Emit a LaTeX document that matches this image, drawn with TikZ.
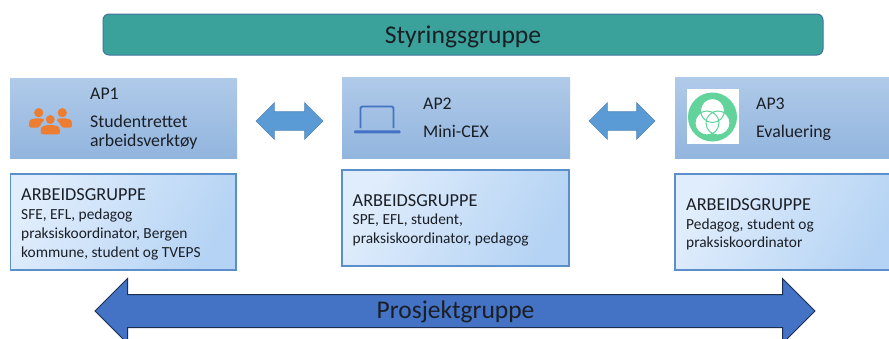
\documentclass[tikz,border=0pt]{standalone}
\usepackage{fontspec}
\setmainfont{Carlito}
\usetikzlibrary{shapes.arrows}
\definecolor{apTop}{HTML}{B0CAE9}
\definecolor{apBot}{HTML}{92B5DE}
\definecolor{wgLight}{HTML}{E0EDFC}
\definecolor{wgDark}{HTML}{B5D3F4}
\definecolor{wgLine}{HTML}{5A8FCB}
\definecolor{teal}{HTML}{3AA29B}
\definecolor{tealLine}{HTML}{44739B}
\definecolor{bigBlue}{HTML}{4472C4}
\definecolor{bigLine}{HTML}{1C2F52}
\definecolor{smallBlue}{HTML}{5B9BD5}
\definecolor{smallLine}{HTML}{5585B5}
\definecolor{iconOrange}{HTML}{ED7D31}
\definecolor{iconGreen}{HTML}{62D49B}
\definecolor{ink}{HTML}{1A1F26}
\tikzset{
  x=1pt,y=-1pt,
  apbox/.style={anchor=north west,inner sep=0pt,outer sep=0pt,top color=apTop,bottom color=apBot},
  wgbox/.style={anchor=north west,inner sep=0pt,outer sep=0pt,draw=wgLine,line width=1.2pt,left color=wgLight,right color=wgDark,shading angle=60},
  aptext/.style={anchor=base west,inner sep=0pt,text=ink,font=\fontsize{17.8}{20}\selectfont,align=left},
  wgtitle/.style={anchor=base west,inner sep=0pt,text=ink,font=\fontsize{18.3}{20}\selectfont},
  wgtext/.style={anchor=base west,inner sep=0pt,text=ink,font=\fontsize{15.4}{19}\selectfont},
  linkarrow/.style={shape=double arrow,draw=smallLine,line width=.6pt,fill=smallBlue,inner xsep=0pt,inner ysep=9pt,outer sep=0pt,
    minimum height=67pt,double arrow head extend=9pt,double arrow head indent=0pt},
}
\begin{document}
\begin{tikzpicture}
\useasboundingbox (0,0) rectangle (889,338);
\clip (0,0) rectangle (889,338);
\fill[white] (0,0) rectangle (889,338);

% Steering group
\node[draw=tealLine,line width=1pt,fill=teal,rounded corners=6pt,minimum width=720pt,minimum height=41pt,inner sep=0pt,
  text=ink,font=\fontsize{25.6}{28}\selectfont] (styring) at (463,34.5) {\raisebox{-8.5pt}[0pt][0pt]{Styringsgruppe}};

% Work-package boxes
\node[apbox,minimum width=227pt,minimum height=80pt] (ap1) at (10,78) {};
\node[apbox,minimum width=228pt,minimum height=81pt] (ap2) at (342,77) {};
\node[apbox,minimum width=225pt,minimum height=81pt] (ap3) at (675,77) {};

% Working-group boxes
\node[wgbox,minimum width=225.5pt,minimum height=96pt] (wg1) at (10.5,174) {};
\node[wgbox,minimum width=227pt,minimum height=96pt] (wg2) at (342,170) {};
\node[wgbox,minimum width=225pt,minimum height=96pt] (wg3) at (675,174) {};

% AP texts
\node[aptext] (ap1a) at (90,99) {AP1};
\node[aptext] (ap1b) at (90,127) {Studentrettet};
\node[aptext] (ap1c) at (90,146) {arbeidsverktøy};
\node[aptext] (ap2a) at (423,109) {AP2};
\node[aptext] (ap2b) at (423,137) {Mini-CEX};
\node[aptext] (ap3a) at (756,109) {AP3};
\node[aptext] (ap3b) at (756,137) {Evaluering};

% Working-group texts
\node[wgtitle] (wg1t) at (21,200) {ARBEIDSGRUPPE};
\node[wgtext] (wg1a) at (21,219) {SFE, EFL, pedagog};
\node[wgtext] (wg1b) at (21,238) {praksiskoordinator, Bergen};
\node[wgtext] (wg1c) at (21,257) {kommune, student og TVEPS};
\node[wgtitle] (wg2t) at (352.5,206) {ARBEIDSGRUPPE};
\node[wgtext] (wg2a) at (352.5,224) {SPE, EFL, student,};
\node[wgtext] (wg2b) at (352.5,243) {praksiskoordinator, pedagog};
\node[wgtitle] (wg3t) at (686,210) {ARBEIDSGRUPPE};
\node[wgtext] (wg3a) at (686,229) {Pedagog, student og};
\node[wgtext] (wg3b) at (686,247) {praksiskoordinator};

% Double arrows between work packages
\node[linkarrow] (link12) at (289.5,121) {};
\node[linkarrow,minimum height=66pt] (link23) at (622,121) {};

% Project group arrow
\node[shape=double arrow,draw=bigLine,line width=1pt,fill=bigBlue,inner xsep=0pt,inner ysep=16pt,outer sep=0pt,
  minimum height=720pt,double arrow head extend=16pt,double arrow head indent=0pt] (prosjekt) at (455,311) {};
\node[inner sep=0pt,text=ink,font=\fontsize{25.5}{28}\selectfont] (prosjektlabel) at (455.5,311.5) {Prosjektgruppe};

% People icon
\fill[iconOrange] (38.7,112.7) circle (4.6) (62.3,112.7) circle (4.6) (50.3,119.5) circle (4.4);
\fill[iconOrange,rounded corners=2pt] (29,127.5) -- (29,123) .. controls (30,119) and (35,118.4) .. (38.7,118.4)
  .. controls (41,118.4) and (43,118.8) .. (45,120) .. controls (42,122) and (40.5,124) .. (40,127.5) -- cycle;
\fill[iconOrange,rounded corners=2pt] (72,127.5) -- (72,123) .. controls (71,119) and (66,118.4) .. (62.3,118.4)
  .. controls (60,118.4) and (58,118.8) .. (56,120) .. controls (59,122) and (60.5,124) .. (61,127.5) -- cycle;
\fill[iconOrange,rounded corners=2pt] (40.7,134.3) -- (40.7,130) .. controls (41.5,126.5) and (46,125) .. (50.3,125)
  .. controls (55,125) and (59,126.5) .. (60,130) -- (60,134.3) -- cycle;

% Laptop icon
\draw[bigBlue,line width=1.9pt,rounded corners=1.5pt] (360.5,128) -- (360.5,106.5) -- (393.5,106.5) -- (393.5,128);
\fill[bigBlue,rounded corners=1pt] (354,130.3) rectangle (400.5,133.3);

% Evaluation icon
\fill[white] (687,89) rectangle (739,144);
\fill[iconGreen] (712.5,117) circle (24.5);
\fill[white] (712.5,110.5) circle (12) (707,123) circle (12) (718,123) circle (12);
\draw[iconGreen,line width=1pt] (712.5,110.5) circle (12) (707,123) circle (12) (718,123) circle (12);
\end{tikzpicture}
\end{document}
